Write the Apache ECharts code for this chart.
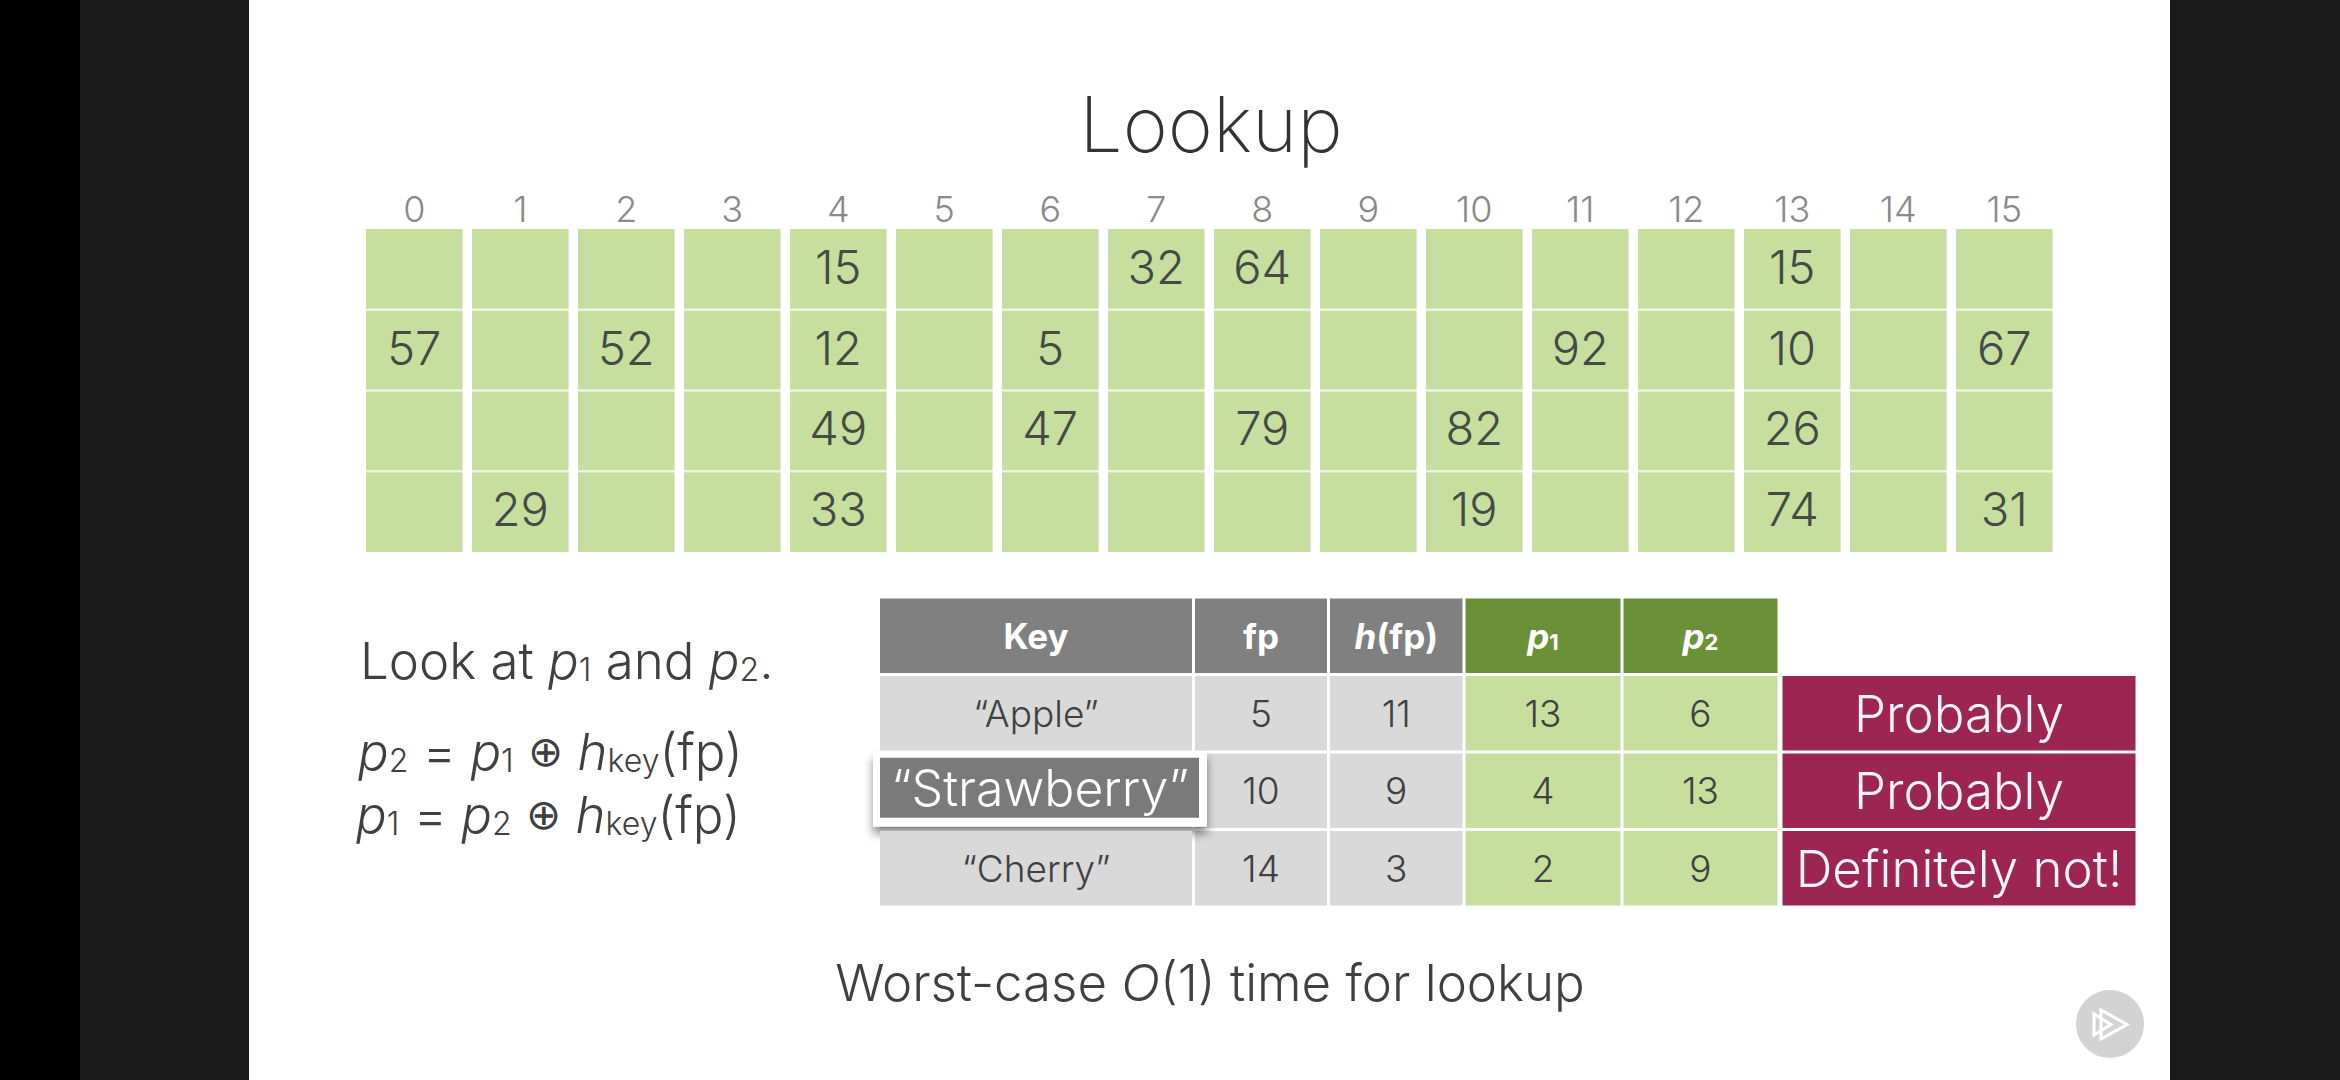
<!DOCTYPE html>
<html><head><meta charset="utf-8">
<script src="https://cdn.jsdelivr.net/npm/echarts@6/dist/echarts.min.js"></script>
<style>html,body{margin:0;padding:0;background:#1a1a1a}#c{width:2340px;height:1080px}</style>
</head><body><div id="c"></div>
<script>
// ---------- data ----------
const bucketLabels = ['0','1','2','3','4','5','6','7','8','9','10','11','12','13','14','15'];
const slotLabels = ['0','1','2','3'];
const slotRow0 = ['', '', '', '', 15, '', '', 32, 64, '', '', '', '', 15, '', ''];
const slotRow1 = [57, '', 52, '', 12, '', 5, '', '', '', '', 92, '', 10, '', 67];
const slotRow2 = ['', '', '', '', 49, '', 47, '', 79, '', 82, '', '', 26, '', ''];
const slotRow3 = ['', 29, '', '', 33, '', '', '', '', '', 19, '', '', 74, '', 31];
const slotRows = [slotRow0, slotRow1, slotRow2, slotRow3];

const tableRowNames = ['header', 'Apple', 'Strawberry', 'Cherry'];
const tableHeaders = ['Key', 'fp', '{i|h}(fp)', '{i|p}{s|1}', '{i|p}{s|2}', ''];
const tableKeys = ['“Apple”', '“Strawberry”', '“Cherry”'];
const tableFp = [5, 10, 14];
const tableHfp = [11, 9, 3];
const tableP1 = [13, 4, 2];
const tableP2 = [6, 13, 9];
const tableVerdict = ['Probably', 'Probably', 'Definitely not!'];
const highlightedKey = 1;

// ---------- style ----------
const FONT = "Inter, 'Noto Sans', sans-serif";
const GREEN = '#c6df9e', GREEN_SEP = '#eaf4dc', GREEN_HEAD = '#6b9138';
const GRAY_HEAD = '#808080', GRAY_BODY = '#d9d9d9', CRIMSON = '#9c2551';
const TEXT = '#404040';

const tableKinds = ['gray', 'gray', 'gray', 'green', 'green', 'verdict'];
const tableValues = [tableKeys, tableFp, tableHfp, tableP1, tableP2, tableVerdict];
const tableLayout = [
  {left: 878.5, width: 315}, {left: 1193.5, width: 135}, {left: 1328.5, width: 135.5},
  {left: 1464, width: 158}, {left: 1622, width: 157}, {left: 1781, width: 356}
];
const TABLE_TOP = 597, TABLE_H = 310;

// ---------- hash table ----------
const bucketData = [];
slotRows.forEach((row, r) => row.forEach((v, c) => bucketData.push([c, r])));

function renderBucket(params, api) {
  const c = api.value(0), r = api.value(1);
  const v = slotRows[r][c];
  const p = api.coord([c, r]);
  const s = api.size([1, 1]);
  const gx = 9.5, gy = 2.6;
  const x0 = p[0] - s[0] / 2 + gx / 2, w = s[0] - gx;
  const y0 = p[1] - s[1] / 2, h = s[1];
  const t = r > 0 ? gy / 2 : 0, b = r < slotLabels.length - 1 ? gy / 2 : 0;
  const children = [
    {type: 'rect', shape: {x: x0, y: y0, width: w, height: h}, style: {fill: GREEN_SEP}},
    {type: 'rect', shape: {x: x0, y: y0 + t, width: w, height: h - t - b}, style: {fill: GREEN}}
  ];
  if (v !== '') {
    children.push({type: 'text', style: {text: String(v), x: p[0], y: p[1] - 3, align: 'center',
      verticalAlign: 'middle', fontSize: 47, fontWeight: 300, fontFamily: FONT, fill: '#454a45'}});
  }
  return {type: 'group', children};
}

// ---------- table ----------
function makeCellRenderer(col) {
  const kind = tableKinds[col];
  return function (params, api) {
    const r = api.value(1);
    const p = api.coord([0, r]);
    const s = api.size([1, 1]);
    const inset = 1.5;
    const x0 = p[0] - s[0] / 2 + inset, w = s[0] - 2 * inset;
    const y0 = p[1] - s[1] / 2 + inset, h = s[1] - 2 * inset;
    const children = [];
    if (r === 0) {
      if (kind === 'verdict') return {type: 'group', children: []};
      children.push({type: 'rect', shape: {x: x0, y: y0, width: w, height: h},
        style: {fill: kind === 'green' ? GREEN_HEAD : GRAY_HEAD}});
      children.push({type: 'text', style: {text: tableHeaders[col], x: p[0], y: p[1], align: 'center',
        verticalAlign: 'middle', fontSize: 35, fontWeight: 'bold', fontFamily: FONT, fill: '#ffffff',
        rich: {
          i: {fontSize: 35, fontWeight: 'bold', fontStyle: 'italic', fontFamily: FONT, fill: '#ffffff'},
          s: {fontSize: 22, fontWeight: 'bold', fontFamily: FONT, fill: '#ffffff', verticalAlign: 'bottom'}
        }}});
      return {type: 'group', children};
    }
    const v = tableValues[col][r - 1];
    const fill = kind === 'green' ? GREEN : kind === 'verdict' ? CRIMSON : GRAY_BODY;
    children.push({type: 'rect', shape: {x: x0, y: y0, width: w, height: h}, style: {fill}});
    if (col === 0 && r - 1 === highlightedKey) {
      children.push({type: 'rect', shape: {x: p[0] - 163, y: p[1] - 39, width: 334, height: 75},
        style: {fill: '#ffffff', shadowColor: 'rgba(0,0,0,0.45)', shadowBlur: 10, shadowOffsetY: 7}});
      children.push({type: 'rect', shape: {x: p[0] - 156, y: p[1] - 33, width: 319, height: 60},
        style: {fill: '#7a7a7a'}});
      children.push({type: 'text', style: {text: String(v), x: p[0] + 4, y: p[1] - 3, align: 'center',
        verticalAlign: 'middle', fontSize: 50, fontWeight: 300, fontFamily: FONT, fill: '#ffffff'}});
      return {type: 'group', children};
    }
    const isVerdict = kind === 'verdict';
    children.push({type: 'text', style: {text: String(v), x: p[0], y: p[1], align: 'center',
      verticalAlign: 'middle', fontSize: isVerdict ? 51 : 37, fontWeight: 300, fontFamily: FONT,
      fill: isVerdict ? '#fff5f9' : TEXT}});
    return {type: 'group', children};
  };
}

const grids = [{left: 361.25, top: 229, width: 1696, height: 323}];
const xAxes = [{gridIndex: 0, type: 'category', data: bucketLabels, position: 'top',
  axisLine: {show: false}, axisTick: {show: false}, splitLine: {show: false},
  axisLabel: {color: '#8a8a8a', fontSize: 36, fontWeight: 300, fontFamily: FONT, margin: 2, interval: 0}}];
const yAxes = [{gridIndex: 0, type: 'category', data: slotLabels, inverse: true, show: false}];
const series = [{type: 'custom', xAxisIndex: 0, yAxisIndex: 0, data: bucketData,
  renderItem: renderBucket, clip: false, silent: true}];

tableLayout.forEach((lay, i) => {
  const gi = i + 1;
  grids.push({left: lay.left, width: lay.width, top: TABLE_TOP, height: TABLE_H});
  xAxes.push({gridIndex: gi, type: 'category', data: [tableRowNames[0] + i], show: false});
  yAxes.push({gridIndex: gi, type: 'category', data: tableRowNames, inverse: true, show: false});
  series.push({type: 'custom', xAxisIndex: gi, yAxisIndex: gi,
    data: tableRowNames.map((n, r) => [0, r]), renderItem: makeCellRenderer(i), clip: false, silent: true,
    z: i === 0 ? 5 : 2});
});

const subRich = {
  n: {fontSize: 51, fontWeight: 300, fontFamily: FONT, fill: TEXT},
  i: {fontSize: 51, fontWeight: 300, fontStyle: 'italic', fontFamily: FONT, fill: TEXT},
  s: {fontSize: 32, fontWeight: 300, fontFamily: FONT, fill: TEXT, verticalAlign: 'bottom'},
  o: {fontSize: 42, fontWeight: 'normal', fontFamily: "'DejaVu Sans'", fill: TEXT}
};

const chart = echarts.init(document.getElementById('c'), null, {renderer: 'svg'});
chart.setOption({
  backgroundColor: '#ffffff',
  animation: false,
  grid: grids, xAxis: xAxes, yAxis: yAxes, series,
  graphic: [
    {type: 'rect', shape: {x: 0, y: 0, width: 80, height: 1080}, style: {fill: '#000000'}, silent: true},
    {type: 'rect', shape: {x: 80, y: 0, width: 169, height: 1080}, style: {fill: '#1a1a1a'}, silent: true},
    {type: 'rect', shape: {x: 2170, y: 0, width: 170, height: 1080}, style: {fill: '#1a1a1a'}, silent: true},
    {type: 'text', x: 1211, y: 124, style: {text: 'Lookup', align: 'center', verticalAlign: 'middle',
      fontSize: 77, fontWeight: 200, fontFamily: FONT, fill: '#333333'}},
    {type: 'text', x: 360, y: 660, style: {text: '{n|Look at }{i|p}{s|1}{n| and }{i|p}{s|2}{n|.}',
      align: 'left', verticalAlign: 'middle', rich: subRich}},
    {type: 'text', x: 358, y: 751, style: {text: '{i|p}{s|2}{n| = }{i|p}{s|1}{n| }{o|⊕}{n| }{i|h}{s|key}{n|(fp)}',
      align: 'left', verticalAlign: 'middle', rich: subRich}},
    {type: 'text', x: 356, y: 814, style: {text: '{i|p}{s|1}{n| = }{i|p}{s|2}{n| }{o|⊕}{n| }{i|h}{s|key}{n|(fp)}',
      align: 'left', verticalAlign: 'middle', rich: subRich}},
    {type: 'text', x: 1210, y: 982, style: {text: '{n|Worst-case }{i|O}{n|(1) time for lookup}',
      align: 'center', verticalAlign: 'middle', rich: subRich}},
    {type: 'circle', shape: {cx: 2110, cy: 1024, r: 34}, style: {fill: '#d3d3d3'}, silent: true},
    {type: 'polygon', shape: {points: [[2101, 1010], [2101, 1039], [2127, 1024.5]]},
      style: {fill: 'none', stroke: '#ffffff', lineWidth: 3}, silent: true},
    {type: 'polygon', shape: {points: [[2094, 1014], [2094, 1035], [2111, 1024.5]]},
      style: {fill: 'none', stroke: '#ffffff', lineWidth: 3}, silent: true}
  ]
});
</script>
</body></html>
